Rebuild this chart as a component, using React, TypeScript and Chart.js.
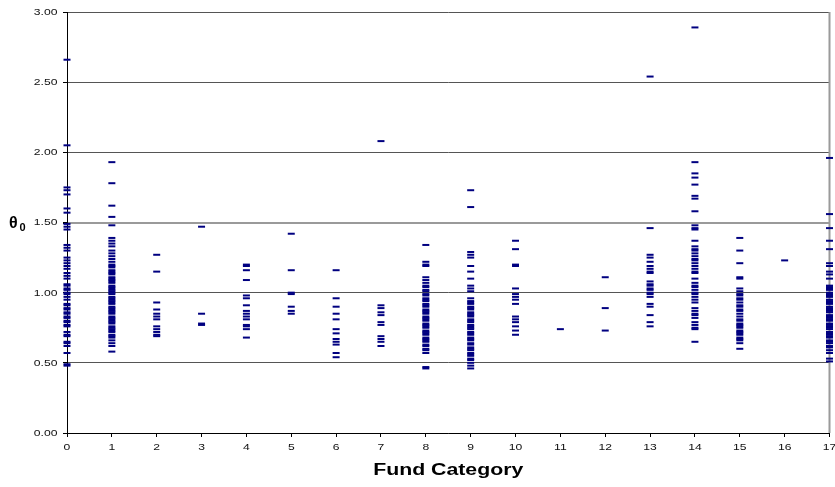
import React, { useEffect, useRef } from "react";
import { Chart, registerables } from "chart.js";

Chart.register(...registerables);

// Fund categories (x positions) and θ0 values observed in each category
const categories = [0, 1, 2, 3, 4, 5, 6, 7, 8, 9, 10, 11, 12, 13, 14, 15, 16, 17];

const fund0 = [2.66, 2.05, 1.75, 1.73, 1.70, 1.60, 1.57, 1.49, 1.47, 1.45, 1.34, 1.32, 1.30, 1.25, 1.23, 1.21, 1.19, 1.17, 1.14, 1.12, 1.10, 1.06, 1.05, 1.03, 1.02, 1.00, 0.99, 0.97, 0.95, 0.92, 0.91, 0.89, 0.88, 0.86, 0.85, 0.83, 0.82, 0.80, 0.79, 0.77, 0.76, 0.72, 0.70, 0.69, 0.65, 0.64, 0.62, 0.57, 0.49, 0.48];
const fund1 = [1.93, 1.78, 1.62, 1.54, 1.48, 1.39, 1.37, 1.35, 1.33, 1.30, 1.28, 1.26, 1.24, 1.22, 1.20, 1.19, 1.18, 1.16, 1.15, 1.14, 1.13, 1.11, 1.10, 1.09, 1.08, 1.07, 1.05, 1.04, 1.03, 1.02, 1.01, 1.00, 0.99, 0.97, 0.96, 0.95, 0.94, 0.93, 0.92, 0.90, 0.89, 0.88, 0.87, 0.86, 0.85, 0.83, 0.82, 0.81, 0.80, 0.79, 0.78, 0.76, 0.75, 0.74, 0.73, 0.72, 0.70, 0.69, 0.68, 0.66, 0.64, 0.62, 0.58];
const fund2 = [1.27, 1.15, 0.93, 0.88, 0.85, 0.83, 0.81, 0.76, 0.74, 0.72, 0.70, 0.69];
const fund3 = [1.47, 0.85, 0.78, 0.77];
const fund4 = [1.20, 1.19, 1.16, 1.09, 0.98, 0.96, 0.91, 0.87, 0.85, 0.83, 0.81, 0.77, 0.76, 0.74, 0.68];
const fund5 = [1.42, 1.16, 1.00, 0.99, 0.90, 0.87, 0.85];
const fund6 = [1.16, 0.96, 0.90, 0.85, 0.81, 0.74, 0.71, 0.67, 0.65, 0.63, 0.57, 0.54];
const fund7 = [2.08, 0.91, 0.89, 0.86, 0.84, 0.79, 0.77, 0.69, 0.67, 0.65, 0.62];
const fund8 = [1.34, 1.22, 1.20, 1.19, 1.11, 1.09, 1.07, 1.05, 1.04, 1.02, 1.01, 0.99, 0.98, 0.96, 0.95, 0.94, 0.92, 0.91, 0.90, 0.88, 0.87, 0.86, 0.85, 0.83, 0.82, 0.81, 0.80, 0.78, 0.77, 0.76, 0.75, 0.73, 0.72, 0.71, 0.70, 0.68, 0.67, 0.66, 0.65, 0.63, 0.62, 0.60, 0.59, 0.57, 0.47, 0.46];
const fund9 = [1.73, 1.61, 1.29, 1.27, 1.25, 1.19, 1.15, 1.10, 1.05, 1.03, 1.01, 0.96, 0.94, 0.93, 0.92, 0.90, 0.89, 0.88, 0.86, 0.85, 0.84, 0.83, 0.81, 0.80, 0.79, 0.77, 0.76, 0.75, 0.74, 0.72, 0.71, 0.70, 0.68, 0.67, 0.66, 0.64, 0.63, 0.61, 0.60, 0.59, 0.57, 0.56, 0.55, 0.53, 0.52, 0.50, 0.48, 0.46];
const fund10 = [1.37, 1.31, 1.20, 1.19, 1.03, 0.99, 0.97, 0.95, 0.92, 0.83, 0.81, 0.79, 0.76, 0.73, 0.70];
const fund11 = [0.74];
const fund12 = [1.11, 0.89, 0.73];
const fund13 = [2.54, 1.46, 1.27, 1.25, 1.22, 1.19, 1.17, 1.15, 1.14, 1.08, 1.06, 1.05, 1.03, 1.02, 1.00, 0.99, 0.97, 0.92, 0.90, 0.84, 0.79, 0.76];
const fund14 = [2.89, 1.93, 1.85, 1.82, 1.77, 1.69, 1.67, 1.58, 1.48, 1.46, 1.45, 1.37, 1.33, 1.31, 1.30, 1.28, 1.26, 1.24, 1.23, 1.21, 1.19, 1.17, 1.15, 1.14, 1.10, 1.07, 1.05, 1.04, 1.02, 1.00, 0.99, 0.97, 0.95, 0.93, 0.89, 0.87, 0.85, 0.84, 0.82, 0.79, 0.77, 0.75, 0.74, 0.65];
const fund15 = [1.39, 1.30, 1.21, 1.11, 1.10, 1.03, 1.01, 0.99, 0.98, 0.96, 0.95, 0.93, 0.91, 0.90, 0.88, 0.87, 0.85, 0.83, 0.81, 0.80, 0.78, 0.77, 0.76, 0.75, 0.73, 0.72, 0.71, 0.70, 0.68, 0.67, 0.66, 0.64, 0.60];
const fund16 = [1.23];
const fund17 = [1.96, 1.56, 1.46, 1.37, 1.31, 1.21, 1.19, 1.15, 1.13, 1.10, 1.05, 1.04, 1.03, 1.02, 1.00, 0.99, 0.98, 0.97, 0.95, 0.94, 0.93, 0.92, 0.90, 0.89, 0.88, 0.87, 0.86, 0.84, 0.83, 0.82, 0.81, 0.80, 0.78, 0.77, 0.76, 0.75, 0.74, 0.72, 0.71, 0.70, 0.69, 0.68, 0.66, 0.65, 0.64, 0.62, 0.61, 0.59, 0.57, 0.53, 0.51];

const fundValues = [fund0, fund1, fund2, fund3, fund4, fund5, fund6, fund7, fund8, fund9, fund10, fund11, fund12, fund13, fund14, fund15, fund16, fund17];

const xTickValues = categories;
const yTickValues = [0, 0.5, 1, 1.5, 2, 2.5, 3];
const yTickLabels = ["0.00", "0.50", "1.00", "1.50", "2.00", "2.50", "3.00"];
const xTitle = "Fund Category";
const yTitleMain = "θ";
const yTitleSub = "0";

const TEXT_FONT = "'Liberation Sans', Arial, sans-serif";

const textPlugin = {
  id: "excelText",
  beforeDatasetsDraw(chart: any) {
    const { ctx, chartArea } = chart;
    ctx.save();
    ctx.strokeStyle = "#9a9a9a";
    ctx.lineWidth = 2;
    ctx.beginPath();
    ctx.moveTo(chartArea.right, chartArea.top);
    ctx.lineTo(chartArea.right, chartArea.bottom);
    ctx.stroke();
    ctx.restore();
  },
  afterDraw(chart: any) {
    const { ctx, chartArea } = chart;
    const xs = chart.scales.x;
    const ys = chart.scales.y;
    ctx.save();
    ctx.fillStyle = "#111";
    ctx.font = `9px ${TEXT_FONT}`;
    // y tick labels
    ctx.textAlign = "right";
    ctx.textBaseline = "middle";
    yTickValues.forEach((v, i) => {
      const y = ys.getPixelForValue(v);
      ctx.save();
      ctx.translate(57.5, y + 0.5);
      ctx.scale(1.35, 1);
      ctx.fillText(yTickLabels[i], 0, 0);
      ctx.restore();
    });
    // x tick labels
    ctx.textAlign = "center";
    xTickValues.forEach((v) => {
      const x = xs.getPixelForValue(v);
      ctx.save();
      ctx.translate(x, chartArea.bottom + 15);
      ctx.scale(1.35, 1);
      ctx.fillText(String(v), 0, 0);
      ctx.restore();
    });
    // x title
    ctx.fillStyle = "#000";
    ctx.font = `bold 16px ${TEXT_FONT}`;
    ctx.textBaseline = "alphabetic";
    ctx.save();
    ctx.translate((chartArea.left + chartArea.right) / 2, 475);
    ctx.scale(1.33, 1);
    ctx.fillText(xTitle, 0, 0);
    ctx.restore();
    // y title θ0
    ctx.textAlign = "left";
    ctx.font = `bold 16px ${TEXT_FONT}`;
    ctx.fillText(yTitleMain, 9, 228);
    ctx.font = `bold 11px ${TEXT_FONT}`;
    ctx.fillText(yTitleSub, 19.5, 230.5);
    ctx.restore();
  },
};

export default function App() {
  const canvasRef = useRef<HTMLCanvasElement | null>(null);

  useEffect(() => {
    const canvas = canvasRef.current;
    if (!canvas) return;
    const points: { x: number; y: number }[] = [];
    fundValues.forEach((vals, i) => {
      vals.forEach((v) => points.push({ x: categories[i], y: v }));
    });

    const chart = new Chart(canvas, {
      type: "scatter",
      data: {
        datasets: [
          {
            data: points,
            showLine: false,
            pointStyle: "line",
            pointRadius: 3.5,
            pointHoverRadius: 3.5,
            pointBorderWidth: 2,
            pointBorderColor: "#000080",
            pointBackgroundColor: "#000080",
            clip: false,
          } as any,
        ],
      },
      options: {
        responsive: false,
        animation: false,
        events: [],
        layout: { padding: { top: 12, right: 3, left: 0, bottom: 0 } },
        plugins: { legend: { display: false }, tooltip: { enabled: false } },
        scales: {
          x: {
            type: "linear",
            min: 0,
            max: 17,
            afterBuildTicks: (scale: any) => {
              scale.ticks = xTickValues.map((v) => ({ value: v }));
            },
            afterFit: (scale: any) => {
              scale.height = 54;
              scale.paddingLeft = 0;
              scale.paddingRight = 0;
            },
            ticks: { display: false },
            grid: {
              drawOnChartArea: false,
              drawTicks: true,
              tickLength: 4,
              tickColor: "#000",
              color: "#000",
            },
            border: { display: true, color: "#000", width: 1 },
          },
          y: {
            type: "linear",
            min: 0,
            max: 3,
            afterBuildTicks: (scale: any) => {
              scale.ticks = yTickValues.map((v) => ({ value: v }));
            },
            afterFit: (scale: any) => {
              scale.width = 67;
              scale.paddingTop = 0;
              scale.paddingBottom = 0;
            },
            ticks: { display: false },
            grid: {
              drawOnChartArea: true,
              drawTicks: true,
              tickLength: 4,
              tickColor: "#000",
              color: (ctx: any) => (ctx.tick && ctx.tick.value === 1.5 ? "#9a9a9a" : "#555555"),
              lineWidth: (ctx: any) => (ctx.tick && ctx.tick.value === 1.5 ? 2 : 1),
            },
            border: { display: true, color: "#000", width: 1 },
          },
        },
      },
      plugins: [textPlugin],
    });
    return () => chart.destroy();
  }, []);

  return (
    <div style={{ position: "fixed", left: 0, top: 0, width: 835, height: 487, background: "#fff" }}>
      <canvas ref={canvasRef} width={835} height={487} style={{ display: "block" }} />
    </div>
  );
}
